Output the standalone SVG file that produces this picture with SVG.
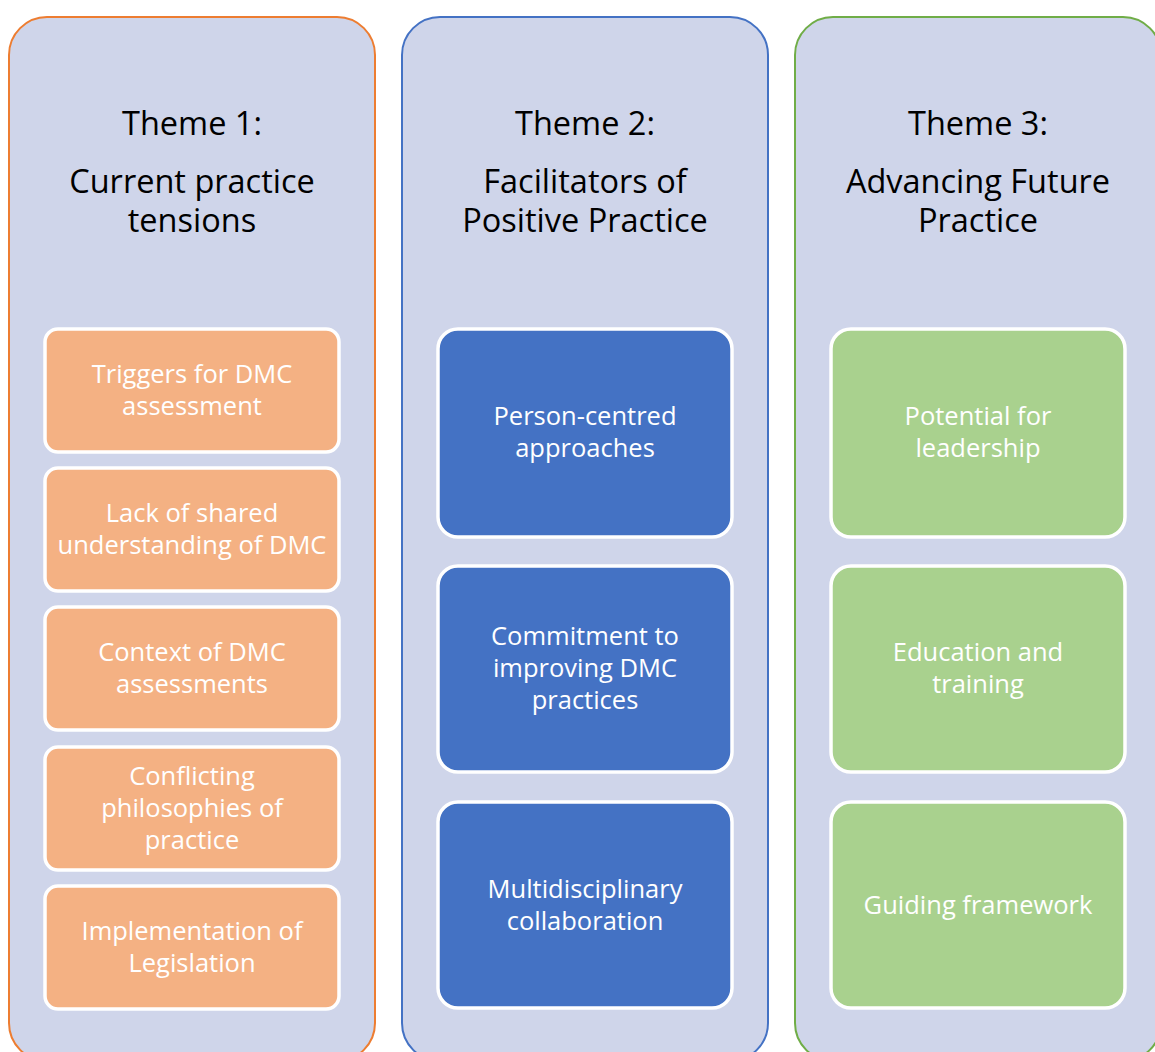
<svg xmlns="http://www.w3.org/2000/svg" width="1155" height="1052" viewBox="0 0 1155 1052">
<style>
.panel{fill:#CFD5EA;stroke-width:2}
.p1{stroke:#ED7D31}.p2{stroke:#4472C4}.p3{stroke:#70AD47}
.box{stroke:#FFFFFF;stroke-width:3.5}
.b1{fill:#F4B183}.b2{fill:#4472C4}.b3{fill:#A9D18E}
.title{font-family:"Open Sans","Liberation Sans",sans-serif;font-size:32.5px;fill:#000000;text-anchor:middle}
.lbl{font-family:"Open Sans","Liberation Sans",sans-serif;font-size:25.5px;fill:#FFFFFF;text-anchor:middle}
</style>
<rect width="1155" height="1052" fill="#FFFFFF"/>
<g id="theme1">
<rect class="panel p1" x="9" y="17" width="366" height="1044" rx="38"/>
<text class="title"><tspan x="192" y="135">Theme 1:</tspan><tspan x="192" y="193">Current practice</tspan><tspan x="192" y="232">tensions</tspan></text>
</g>
<g id="theme2">
<rect class="panel p2" x="402" y="17" width="366" height="1044" rx="38"/>
<text class="title"><tspan x="585" y="135">Theme 2:</tspan><tspan x="585" y="193">Facilitators of</tspan><tspan x="585" y="232">Positive Practice</tspan></text>
</g>
<g id="theme3">
<rect class="panel p3" x="795" y="17" width="366" height="1044" rx="38"/>
<text class="title"><tspan x="978" y="135">Theme 3:</tspan><tspan x="978" y="193">Advancing Future</tspan><tspan x="978" y="232">Practice</tspan></text>
</g>
<g id="t1-triggers">
<rect class="box b1" x="45" y="329" width="294" height="123" rx="13"/>
<text class="lbl"><tspan x="192" y="383">Triggers for DMC</tspan><tspan x="192" y="415">assessment</tspan></text>
</g>
<g id="t1-lack">
<rect class="box b1" x="45" y="468" width="294" height="123" rx="13"/>
<text class="lbl"><tspan x="192" y="522">Lack of shared</tspan><tspan x="192" y="554">understanding of DMC</tspan></text>
</g>
<g id="t1-context">
<rect class="box b1" x="45" y="607" width="294" height="123" rx="13"/>
<text class="lbl"><tspan x="192" y="661">Context of DMC</tspan><tspan x="192" y="693">assessments</tspan></text>
</g>
<g id="t1-conflicting">
<rect class="box b1" x="45" y="747" width="294" height="123" rx="13"/>
<text class="lbl"><tspan x="192" y="785">Conflicting</tspan><tspan x="192" y="817">philosophies of</tspan><tspan x="192" y="849">practice</tspan></text>
</g>
<g id="t1-implementation">
<rect class="box b1" x="45" y="886" width="294" height="123" rx="13"/>
<text class="lbl"><tspan x="192" y="940">Implementation of</tspan><tspan x="192" y="972">Legislation</tspan></text>
</g>
<g id="t2-person">
<rect class="box b2" x="438" y="329" width="294" height="208" rx="20"/>
<text class="lbl"><tspan x="585" y="425">Person-centred</tspan><tspan x="585" y="457">approaches</tspan></text>
</g>
<g id="t2-commitment">
<rect class="box b2" x="438" y="566" width="294" height="206" rx="20"/>
<text class="lbl"><tspan x="585" y="645">Commitment to</tspan><tspan x="585" y="677">improving DMC</tspan><tspan x="585" y="709">practices</tspan></text>
</g>
<g id="t2-multi">
<rect class="box b2" x="438" y="802" width="294" height="206" rx="20"/>
<text class="lbl"><tspan x="585" y="898">Multidisciplinary</tspan><tspan x="585" y="930">collaboration</tspan></text>
</g>
<g id="t3-leadership">
<rect class="box b3" x="831" y="329" width="294" height="208" rx="20"/>
<text class="lbl"><tspan x="978" y="425">Potential for</tspan><tspan x="978" y="457">leadership</tspan></text>
</g>
<g id="t3-education">
<rect class="box b3" x="831" y="566" width="294" height="206" rx="20"/>
<text class="lbl"><tspan x="978" y="661">Education and</tspan><tspan x="978" y="693">training</tspan></text>
</g>
<g id="t3-framework">
<rect class="box b3" x="831" y="802" width="294" height="206" rx="20"/>
<text class="lbl"><tspan x="978" y="914">Guiding framework</tspan></text>
</g>
<g id="connectors"/>
</svg>
